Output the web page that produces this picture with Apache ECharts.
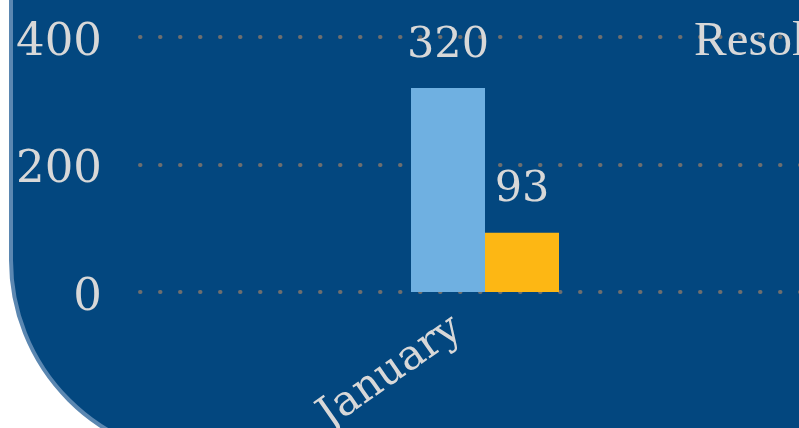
<!DOCTYPE html>
<html>
<head>
<meta charset="utf-8">
<title>January</title>
<script src="https://cdn.jsdelivr.net/npm/echarts@6/dist/echarts.min.js"></script>
<style>
html, body {
    margin: 0;
    padding: 0;
    width: 799px;
    height: 428px;
    overflow: hidden;
    background: #fff;
}
/* dark panel, only its bottom-left corner is inside the window */
.panel {
    position: absolute;
    left: 9px;
    top: -60px;
    width: 1500px;
    height: 520px;
    box-sizing: border-box;
    background: #03477f;
    border: 4px solid #5b87b1;
    border-bottom-left-radius: 200px;
}
#chart {
    position: absolute;
    left: 0;
    top: 0;
    width: 1600px;
    height: 600px;
}
</style>
</head>
<body>
<div class="panel"></div>
<div id="chart"></div>
<script>
// categories
const months = ['January']
// series (pending has no bar in January)
const seriesNames = ['Pending', 'Resolved', 'Unresolved']
const pending = ['-']
const resolved = [320]
const unresolved = [93]
// y ticks
const yMin = 0
const yMax = 400
const yStep = 200

const labelColor = '#d8d8d8'
const numFont = "Georgia, 'DejaVu Serif', serif"

function barSeries(name, data, color) {
    return {
        name: name,
        type: 'bar',
        data: data,
        barWidth: 74,
        barGap: '0%',
        itemStyle: { color: color },
        label: {
            show: true,
            position: 'top',
            distance: 21,
            color: labelColor,
            fontFamily: numFont,
            fontSize: 43
        }
    }
}

const myChart = echarts.init(document.getElementById('chart'))
myChart.setOption({
    animation: false,
    backgroundColor: 'transparent',
    legend: {
        data: ['Resolved', 'Unresolved', 'Pending'],
        left: 689,
        top: 13,
        align: 'right',
        itemWidth: 25,
        itemHeight: 14,
        itemGap: 30,
        textStyle: {
            color: labelColor,
            fontFamily: "'Liberation Serif', 'Times New Roman', serif",
            fontSize: 49
        }
    },
    grid: {
        left: 140,
        top: 37,
        width: 1232,
        height: 255,
        outerBoundsMode: 'none'
    },
    xAxis: {
        type: 'category',
        data: months,
        max: 1,
        axisLine: { show: false },
        axisTick: { show: false },
        axisLabel: {
            rotate: 35,
            margin: 40,
            padding: [0, -12, 0, 0],
            color: labelColor,
            fontFamily: numFont,
            fontSize: 42
        }
    },
    yAxis: {
        type: 'value',
        min: yMin,
        max: yMax,
        interval: yStep,
        axisLine: { show: false },
        axisTick: { show: false },
        axisLabel: {
            margin: 38,
            formatter: '{n|{value}}',
            rich: {
                n: {
                    padding: [12, 0, 0, 0],
                    color: labelColor,
                    fontFamily: numFont,
                    fontSize: 45
                }
            }
        },
        splitLine: {
            lineStyle: {
                color: '#6e6e6e',
                width: 4,
                type: [0.5, 19.5],
                cap: 'round'
            }
        }
    },
    series: [
        barSeries(seriesNames[0], pending, '#9aa5b1'),
        barSeries(seriesNames[1], resolved, '#6fb0e1'),
        barSeries(seriesNames[2], unresolved, '#fdb714')
    ]
})
</script>
</body>
</html>
